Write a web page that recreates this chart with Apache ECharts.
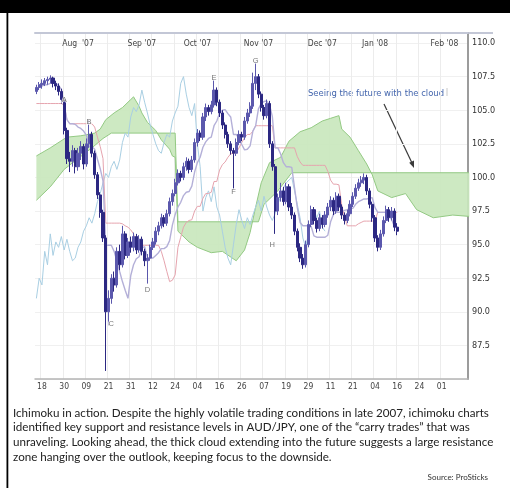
<!DOCTYPE html>
<html><head><meta charset="utf-8">
<script src="https://cdn.jsdelivr.net/npm/echarts@6/dist/echarts.min.js"></script>
<style>html,body{margin:0;padding:0;background:#fff;}#c{width:510px;height:488px;}</style>
</head><body><div id="c"></div>
<script>
// ---------- data ----------
const barCount = 156;
const tickLabels = ['18','30','09','21','31','12','24','04','16','26','07','19','29','11','21','04','16','24','01'];
const tickIndex = [2,10,18,26,34,42,50,58,66,74,82,90,98,106,114,122,130,138,146];
const monthLabels = ["Aug  '07","Sep '07","Oct '07","Nov '07","Dec '07","Jan '08","Feb '08"];
const monthIndex = [15,38,58,80,103,122,147];
const yTicks = [87.5,90,92.5,95,97.5,100,102.5,105,107.5,110];

// candles: [open, close, low, high]
const candles = [
[106.4,106.7,106.2,106.9],[106.7,106.9,106.5,107.1],[106.9,107.0,106.6,107.3],[107.0,107.2,106.8,107.4],
[107.2,107.3,106.9,107.5],[107.3,107.4,107.0,107.6],[107.4,107.0,106.7,107.5],[107.0,106.8,106.5,107.2],
[106.8,106.4,106.1,107.0],[106.4,105.8,105.5,106.6],[105.8,103.5,103.2,106.0],[103.5,101.4,101.0,103.7],
[101.4,101.2,100.4,101.9],[101.2,102.0,100.8,102.4],[102.0,100.8,100.3,102.2],[100.8,101.8,100.5,102.2],
[101.8,102.3,101.3,102.7],[102.3,101.0,100.6,102.5],[101.0,102.5,100.8,102.9],[102.5,103.2,102.2,104.3],
[103.2,101.8,101.5,103.4],[101.8,100.2,99.9,102.0],[100.2,98.7,98.4,100.4],[98.7,97.4,97.0,98.9],
[97.4,95.5,95.2,97.6],[95.5,90.0,85.6,95.7],[90.0,91.0,89.0,91.6],[91.0,92.5,90.6,92.8],
[92.5,92.0,91.5,93.0],[92.0,94.5,91.8,94.8],[94.5,93.5,93.1,95.0],[93.5,95.8,93.3,96.4],
[95.8,94.2,93.9,96.0],[94.2,95.2,94.0,95.5],[95.2,94.8,94.4,95.6],[94.8,95.6,94.5,95.9],
[95.6,94.6,94.3,95.8],[94.6,95.4,94.4,95.7],[95.4,94.5,94.2,95.6],[94.5,93.8,93.4,94.7],
[93.8,94.0,92.1,94.3],[94.0,94.8,93.8,95.0],[94.8,95.2,94.6,95.5],[95.2,96.0,95.0,96.3],
[96.0,96.4,95.7,96.7],[96.4,97.0,96.2,97.3],[97.0,96.6,96.3,97.2],[96.6,97.3,96.4,97.6],
[97.3,98.2,97.1,98.5],[98.2,98.8,97.9,99.1],[98.8,99.6,98.6,99.9],[99.6,100.3,99.4,100.6],
[100.3,100.0,99.7,100.5],[100.0,100.8,99.8,101.1],[100.8,101.2,100.5,101.5],[101.2,100.6,100.3,101.4],
[100.6,101.3,100.4,101.6],[101.3,102.6,101.1,102.9],[102.6,103.3,102.3,103.6],[103.3,103.0,102.7,103.5],
[103.0,104.5,102.8,104.8],[104.5,105.2,104.2,105.5],[105.2,104.9,104.6,105.4],[104.9,105.4,104.7,105.7],
[105.4,106.5,105.2,107.3],[106.5,105.6,105.3,106.7],[105.6,104.8,104.5,105.8],[104.8,103.9,103.6,105.0],
[103.9,103.2,102.9,104.1],[103.2,102.5,102.2,103.4],[102.5,102.0,101.7,102.7],[102.0,101.8,99.1,102.2],
[101.8,102.6,101.6,102.9],[102.6,103.2,102.4,103.5],[103.2,103.0,102.7,103.4],[103.0,104.2,102.8,104.5],
[104.2,104.8,104.0,105.1],[104.8,105.3,104.5,105.6],[105.3,107.0,105.1,107.8],[107.0,107.5,106.5,108.6],
[107.5,106.2,105.9,107.7],[106.2,105.2,104.9,106.4],[105.2,104.6,104.3,105.4],[104.6,105.5,104.4,105.8],
[105.5,102.5,102.2,105.7],[102.5,100.8,100.5,102.7],[100.8,97.5,95.8,101.0],[97.5,98.5,97.2,98.8],
[98.5,99.0,98.2,99.6],[99.0,98.2,97.9,99.3],[98.2,99.3,98.0,99.6],[99.3,97.8,97.5,99.5],
[97.8,97.2,96.9,98.1],[97.2,96.0,95.7,97.4],[96.0,94.8,94.5,96.2],[94.8,94.0,93.7,95.1],
[94.0,93.5,93.2,94.3],[93.5,95.0,93.3,95.3],[95.0,96.5,94.8,96.8],[96.5,97.6,96.3,97.9],
[97.6,96.8,96.5,97.8],[96.8,96.2,95.9,97.0],[96.2,97.0,96.0,97.3],[97.0,96.5,96.2,97.2],
[96.5,97.2,96.3,97.5],[97.2,97.8,97.0,98.1],[97.8,98.3,97.5,98.6],[98.3,97.5,97.2,98.5],
[97.5,98.6,97.3,98.9],[98.6,97.8,97.5,98.8],[97.8,97.2,96.9,98.0],[97.2,96.8,96.5,97.4],
[96.8,97.3,96.6,97.6],[97.3,98.0,97.1,98.3],[98.0,98.6,97.8,98.9],[98.6,99.2,98.4,99.5],
[99.2,99.6,99.0,99.9],[99.6,99.8,99.3,100.1],[99.8,100.0,99.5,100.3],[100.0,99.0,98.7,100.2],
[99.0,98.0,97.7,99.2],[98.0,97.0,96.7,98.2],[97.0,95.5,95.2,97.2],[95.5,94.8,94.5,95.7],
[94.8,95.8,94.6,96.1],[95.8,96.8,95.6,97.1],[96.8,97.6,96.6,97.9],[97.6,97.0,96.7,97.8],
[97.0,97.5,96.8,97.8],[97.5,96.3,96.0,97.7],[96.3,96.0,95.7,96.6]
];

const tenkan = [106.6,106.7,106.8,106.9,106.9,107.0,107.0,107.0,106.85,106.55,
105.4,104.3,104.0,104.0,103.95,103.75,103.65,103.45,103.15,102.3,
102.3,102.1,101.35,100.65,99.75,94.95,94.95,94.95,94.5,93.8,
93.0,92.25,91.6,91.0,92.7,93.5,93.95,94.1,94.75,94.85,
94.05,94.0,94.0,94.2,94.4,94.7,94.7,94.85,95.3,96.45,
97.25,97.8,98.15,98.65,98.9,98.95,99.35,100.4,101.1,101.5,
102.25,102.65,102.9,103.0,103.85,104.2,104.8,105.0,105.05,104.75,
104.5,103.2,103.2,102.9,102.45,102.05,102.1,102.35,103.45,103.85,
105.1,105.5,105.65,105.7,105.4,104.55,102.2,102.2,101.75,101.1,
100.8,100.8,100.75,99.25,97.75,96.65,96.4,96.4,96.4,96.35,
95.65,95.55,95.55,95.55,95.55,95.7,96.7,97.25,97.4,97.4,
97.45,97.55,97.6,97.7,97.7,98.0,98.2,98.3,98.4,98.4,
98.45,98.5,97.75,97.4,97.4,97.4,97.4,97.35,96.85,96.35,96.2];

const kijun = [105.5,105.5,105.5,105.5,105.5,105.5,105.5,105.5,105.5,105.5,
105.4,104.3,104.0,104.0,104.0,104.0,104.0,104.0,104.0,104.0,
104.0,103.75,103.0,102.3,101.4,96.6,96.6,96.6,96.6,96.6,
96.6,96.55,96.4,96.3,96.1,95.8,94.95,94.95,94.95,94.95,
94.95,94.95,94.95,94.95,94.95,94.5,93.8,93.0,92.25,92.35,
92.75,94.8,95.55,96.3,96.65,96.8,96.85,97.5,97.85,97.85,
98.45,98.8,98.8,98.9,99.7,99.7,100.55,100.95,101.15,101.5,
101.75,101.8,101.85,102.2,102.6,102.95,103.2,103.2,103.45,103.85,
103.85,103.85,103.85,103.85,103.85,103.85,102.2,102.2,102.2,102.2,
102.2,102.2,102.2,102.2,101.55,101.15,100.9,100.9,100.9,100.9,
100.9,100.9,100.9,100.9,100.9,100.45,99.8,99.5,99.5,99.45,
97.95,97.1,96.4,96.4,96.4,96.4,96.55,96.65,96.75,96.75,
96.75,96.75,96.8,97.4,97.4,97.4,97.4,97.4,97.4,97.4,97.4];

// leading spans read from the cloud edges: [bar index, price]
const spanA = [[0,101.6],[5,102.2],[11,103.0],[16,103.1],[21,103.3],[23,103.6],[25,104.3],[28,104.8],
[31,105.2],[34,105.8],[35,106.0],[36.5,105.3],[38,104.8],[40,104.1],[43,103.5],[45,102.8],[47.5,102.1],
[49,101.6],[50,101.5],[51,96.0],[55,95.2],[58,94.8],[63,94.4],[67,94.5],[72,93.8],[75,94.6],[77,95.9],
[79,97.8],[81,99.6],[84,101.1],[88,101.5],[91,102.7],[95,103.4],[99,103.7],[103,104.2],[106,104.4],
[109,104.6],[110,103.6],[113,103.0],[116,102.0],[119,101.0],[121,100.2],[123,99.0],[128,98.5],
[133,98.8],[137,97.6],[143,97.0],[150,97.2],[155.5,97.1]];
const spanB = [[0,98.3],[5,99.3],[10,100.6],[15,101.4],[20,102.2],[24,102.9],[27,103.3],[50,103.3],
[51,96.7],[80,96.7],[82,98.0],[87,99.0],[92,100.35],[155.5,100.35]];

const pointNotes = [['A',9.5,105.8],['B',18.6,104.1],['C',26.5,89.1],['D',40.2,91.6],
['E',64.3,107.4],['F',70.8,98.9],['G',78.8,108.7],['H',85.2,95.0]];

const caption = [
'Ichimoku in action. Despite the highly volatile trading conditions in late 2007, ichimoku charts',
'identified key support and resistance levels in AUD/JPY, one of the \u201ccarry trades\u201d that was',
'unraveling. Looking ahead, the thick cloud extending into the future suggests a large resistance',
'zone hanging over the outlook, keeping focus to the downside.'];
const sourceText = 'Source: ProSticks';
const cloudNote = 'Seeing the future with the cloud';

// ---------- chart ----------
const categories = Array.from({length: barCount}, (_, i) => String(i));
const tickSet = new Set(tickIndex);
const monthMap = {}; monthIndex.forEach((m, k) => monthMap[m] = monthLabels[k]);
const chikou = candles.slice(26).map((c, k) => [k, c[1]]);
const axisFont = "'Liberation Sans Narrow','DejaVu Sans Condensed','Liberation Sans',sans-serif";

// caption font sizing
const capFont = 'Lato';
const mctx = document.createElement('canvas').getContext('2d');
mctx.font = '10px ' + capFont;
const capSize = 10 * 476 / mctx.measureText(caption[0]).width;

const chart = echarts.init(document.getElementById('c'), null, {renderer: 'canvas'});
const graphics = [
  {type:'rect', shape:{x:0,y:0,width:510,height:13}, style:{fill:'#000'}},
  {type:'rect', shape:{x:6.5,y:13,width:1.8,height:475}, style:{fill:'#000'}},
  {type:'line', shape:{x1:468,y1:33,x2:493,y2:33}, style:{stroke:'#c3c7d6', lineWidth:2}},
  {type:'text', x:376, y:94, style:{text:cloudNote, fill:'#4466ad', font:"9.4px 'Liberation Sans Narrow','DejaVu Sans Condensed',sans-serif", textAlign:'center', textVerticalAlign:'middle'}},
  {type:'line', shape:{x1:447,y1:88,x2:447,y2:96}, style:{stroke:'#c8c8c8', lineWidth:1}},
  {type:'line', shape:{x1:384,y1:104,x2:412,y2:163}, style:{stroke:'#3a3a3a', lineWidth:1.2}},
  {type:'polygon', shape:{points:[[414,168],[409.2,162.7],[414,160.4]]}, style:{fill:'#3a3a3a'}}
];
caption.forEach((t, k) => graphics.push({type:'text', x:13, y:413 + k*14.7,
  style:{text:t, fill:'#222', font: capSize.toFixed(2) + 'px ' + capFont, textVerticalAlign:'middle'}}));
graphics.push({type:'text', x:488, y:477, style:{text:sourceText, fill:'#333', font:"8px " + capFont, textAlign:'right', textVerticalAlign:'middle'}});

chart.setOption({
  animation: false,
  backgroundColor: '#fff',
  grid: {left:35, right:42, top:33, bottom:109},
  xAxis: [
    {type:'category', data:categories, position:'bottom', boundaryGap:true,
     axisLine:{show:true, lineStyle:{color:'#b4b4b4', width:1.5}},
     axisTick:{show:false},
     axisLabel:{interval:(i)=>tickSet.has(i), formatter:(v, i)=>tickLabels[tickIndex.indexOf(i)] || '', fontSize:8.5, color:'#444', margin:3, fontFamily:axisFont},
     splitLine:{show:true, interval:(i)=>tickSet.has(i), lineStyle:{color:'#ececec', width:1}}},
    {type:'category', data:categories, position:'top', boundaryGap:true,
     axisLine:{show:true, lineStyle:{color:'#c3c7d6', width:2}},
     axisTick:{show:false},
     axisLabel:{inside:true, interval:(i)=>monthMap[i] !== undefined, formatter:(v, i)=>monthMap[i] || '', fontSize:8.5, color:'#444', margin:6, fontFamily:axisFont},
     splitLine:{show:false}}
  ],
  yAxis: {type:'value', position:'right', min:85, max:110.75, interval:2.5,
    axisLine:{show:true, lineStyle:{color:'#9c9c9c', width:2}},
    axisTick:{show:false},
    axisLabel:{margin:4, fontSize:9, color:'#333', fontFamily:axisFont,
      formatter:(v)=> yTicks.some(t => Math.abs(t - v) < 1e-6) ? v.toFixed(1) : ''},
    splitLine:{show:true, lineStyle:{color:'#f0f0f0', width:1}}},
  series: [
    {type:'custom', name:'cloud', silent:true, z:1, data:[[0,100]],
     renderItem:(params, api) => {
       const pts = spanA.map(p => api.coord(p)).concat(spanB.slice().reverse().map(p => api.coord(p)));
       return {type:'polygon', shape:{points:pts}, style:{fill:'#c9e7bd', opacity:0.92}};
     }},
    {type:'line', name:'spanA', data:spanA, symbol:'none', z:2, lineStyle:{color:'#93c983', width:1}},
    {type:'line', name:'spanB', data:spanB, symbol:'none', z:2, lineStyle:{color:'#93c983', width:1}},
    {type:'line', name:'chikou', data:chikou, symbol:'none', z:3, lineStyle:{color:'#a9cfe3', width:1}},
    {type:'line', name:'kijun', data:kijun, symbol:'none', z:3, lineStyle:{color:'#e6a4ae', width:1}},
    {type:'line', name:'tenkan', data:tenkan, symbol:'none', z:3, lineStyle:{color:'#b4b0d8', width:1.4}},
    {type:'candlestick', name:'price', data:candles, z:4, barWidth:'96%',
     itemStyle:{color:'#5b58ad', color0:'#2c2882', borderColor:'#5b58ad', borderColor0:'#2c2882', borderWidth:1}},
    {type:'scatter', name:'notes', data:pointNotes.map(p => [p[1], p[2], p[0]]), symbolSize:0, z:5,
     label:{show:true, formatter:(p)=>p.value[2], position:'inside', fontSize:7.5, color:'#555',
       fontFamily:'Liberation Sans,sans-serif', textBorderColor:'#fff', textBorderWidth:1.5}}
  ],
  graphic: graphics
});
</script>
</body></html>
